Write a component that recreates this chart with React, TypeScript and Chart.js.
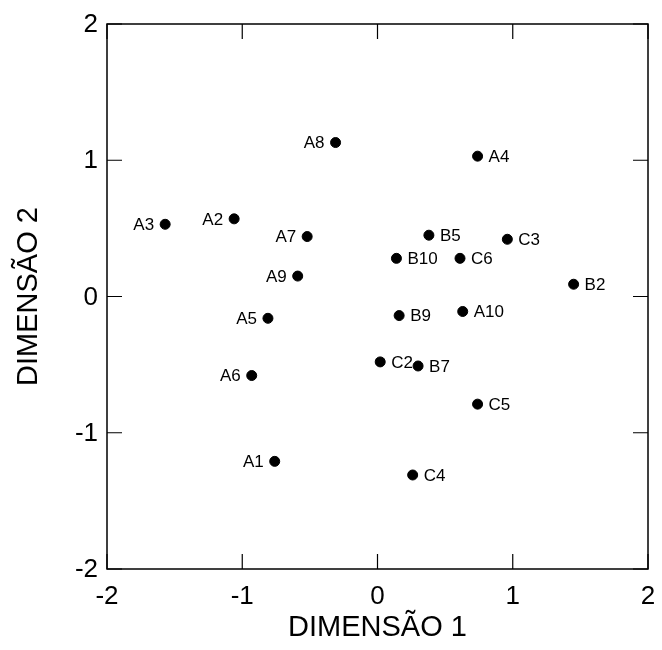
import { useEffect, useRef } from "react";
import { Chart, registerables } from "chart.js";

Chart.register(...registerables);

// Perceptual map coordinates of each item
const pointNames = ["A1", "A2", "A3", "A4", "A5", "A6", "A7", "A8", "A9", "A10", "B2", "B5", "B7", "B9", "B10", "C2", "C3", "C4", "C5", "C6"];
const dim1 = [-0.76, -1.06, -1.57, 0.74, -0.81, -0.93, -0.52, -0.31, -0.59, 0.63, 1.45, 0.38, 0.30, 0.16, 0.14, 0.02, 0.96, 0.26, 0.74, 0.61];
const dim2 = [-1.21, 0.57, 0.53, 1.03, -0.16, -0.58, 0.44, 1.13, 0.15, -0.11, 0.09, 0.45, -0.51, -0.14, 0.28, -0.48, 0.42, -1.31, -0.79, 0.28];

const tickValues = [-2, -1, 0, 1, 2];
const tickLabels = ["-2", "-1", "0", "1", "2"];
const axisTitleX = "DIMENSÃO 1";
const axisTitleY = "DIMENSÃO 2";

// Items whose name sits to the left of the dot
const LEFT_LABELS = new Set(["A1", "A2", "A3", "A5", "A6", "A7", "A8", "A9"]);

const FONT = "'Liberation Sans', Arial, sans-serif";
const TICK_LEN = 15;

const framePlugin = {
  id: "frameAndLabels",
  afterDatasetsDraw(chart: any) {
    const { ctx } = chart;
    const meta = chart.getDatasetMeta(0);
    ctx.save();
    ctx.fillStyle = "#000";
    ctx.font = `17px ${FONT}`;
    ctx.textBaseline = "middle";
    meta.data.forEach((el: any, i: number) => {
      const name = pointNames[i];
      if (LEFT_LABELS.has(name)) {
        ctx.textAlign = "right";
        ctx.fillText(name, el.x - 11, el.y + 1);
      } else {
        ctx.textAlign = "left";
        ctx.fillText(name, el.x + 11, el.y + 1);
      }
    });
    ctx.restore();
  },
  afterDraw(chart: any) {
    const { ctx, chartArea } = chart;
    const { left, right, top, bottom } = chartArea;
    const xs = chart.scales.x;
    const ys = chart.scales.y;
    ctx.save();
    ctx.strokeStyle = "#000";
    ctx.lineWidth = 1.5;
    ctx.strokeRect(left, top, right - left, bottom - top);

    // inward tick marks on all four sides
    ctx.beginPath();
    for (const v of tickValues) {
      const px = xs.getPixelForValue(v);
      ctx.moveTo(px, bottom);
      ctx.lineTo(px, bottom - TICK_LEN);
      ctx.moveTo(px, top);
      ctx.lineTo(px, top + TICK_LEN);
      const py = ys.getPixelForValue(v);
      ctx.moveTo(left, py);
      ctx.lineTo(left + TICK_LEN, py);
      ctx.moveTo(right, py);
      ctx.lineTo(right - TICK_LEN, py);
    }
    ctx.lineWidth = 1.2;
    ctx.stroke();

    // tick labels
    ctx.fillStyle = "#000";
    ctx.font = `26px ${FONT}`;
    ctx.textBaseline = "middle";
    ctx.textAlign = "center";
    tickValues.forEach((v, i) => {
      ctx.fillText(tickLabels[i], xs.getPixelForValue(v), bottom + 28);
    });
    ctx.textAlign = "right";
    tickValues.forEach((v, i) => {
      ctx.fillText(tickLabels[i], left - 9, ys.getPixelForValue(v) + 1);
    });

    // axis titles
    ctx.font = `29px ${FONT}`;
    ctx.textAlign = "center";
    ctx.fillText(axisTitleX, (left + right) / 2, chart.height - 14);
    ctx.translate(21, (top + bottom) / 2);
    ctx.rotate(-Math.PI / 2);
    ctx.fillText(axisTitleY, 0, 0);
    ctx.restore();
  },
};

export default function App() {
  const canvasRef = useRef<HTMLCanvasElement | null>(null);

  useEffect(() => {
    if (!canvasRef.current) return;
    const chart = new Chart(canvasRef.current, {
      type: "scatter",
      data: {
        datasets: [
          {
            data: dim1.map((x, i) => ({ x, y: dim2[i] })),
            backgroundColor: "#000",
            borderColor: "#000",
            pointRadius: 5,
            pointHoverRadius: 5,
          },
        ],
      },
      options: {
        animation: false,
        responsive: true,
        maintainAspectRatio: false,
        layout: { padding: { top: 16, right: 2, left: 0, bottom: 0 } },
        plugins: { legend: { display: false }, tooltip: { enabled: false } },
        scales: {
          x: {
            type: "linear",
            min: -2,
            max: 2,
            afterBuildTicks: (s: any) => {
              s.ticks = tickValues.map((v) => ({ value: v }));
            },
            afterFit: (s: any) => {
              s.height = 73;
            },
            grid: { display: false, drawTicks: false },
            border: { display: false },
            ticks: { display: false },
          },
          y: {
            type: "linear",
            min: -2,
            max: 2,
            afterBuildTicks: (s: any) => {
              s.ticks = tickValues.map((v) => ({ value: v }));
            },
            afterFit: (s: any) => {
              s.width = 99;
            },
            grid: { display: false, drawTicks: false },
            border: { display: false },
            ticks: { display: false },
          },
        },
      },
      plugins: [framePlugin],
    });
    return () => chart.destroy();
  }, []);

  return (
    <div style={{ width: 646, height: 634, position: "relative" }}>
      <canvas ref={canvasRef} />
    </div>
  );
}
